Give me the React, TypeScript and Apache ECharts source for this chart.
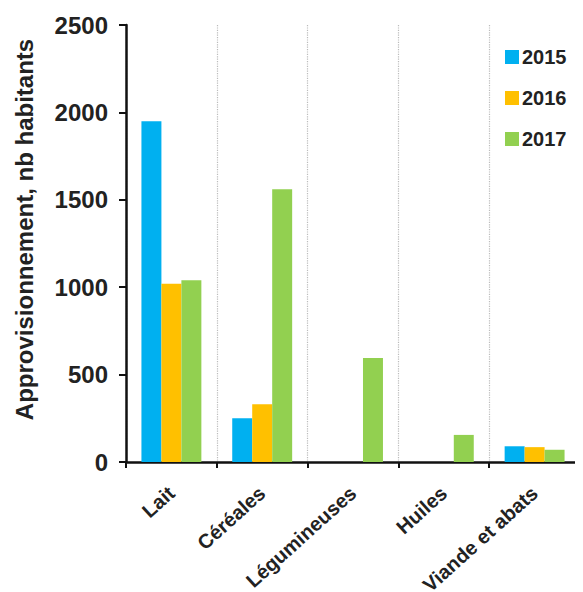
import React, { useEffect, useRef } from "react";
import * as echarts from "echarts";

const categories = ["Lait", "Céréales", "Légumineuses", "Huiles", "Viande et abats"];
const years = ["2015", "2016", "2017"];
const values2015 = [1950, 250, 0, 0, 90];
const values2016 = [1020, 330, 0, 0, 85];
const values2017 = [1040, 1560, 595, 155, 70];
const colors = ["#00B0F0", "#FFC000", "#92D050"];
const yTicks = [0, 500, 1000, 1500, 2000, 2500];

export default function App() {
  const ref = useRef<HTMLDivElement>(null);
  useEffect(() => {
    if (!ref.current) return;
    const chart = echarts.init(ref.current, null, { renderer: "svg" });
    const font = "Liberation Sans, Arial, sans-serif";
    const seriesData = [values2015, values2016, values2017];
    chart.setOption({
      animation: false,
      textStyle: { fontFamily: font },
      grid: { left: 118, top: 17, right: 3, bottom: 130, containLabel: false, outerBoundsMode: "none" },
      legend: {
        orient: "vertical",
        left: 492,
        top: 34,
        itemWidth: 14,
        itemHeight: 14,
        itemGap: 21,
        icon: "rect",
        data: years,
        textStyle: { fontSize: 20, fontWeight: "bold", color: "#222", fontFamily: font, padding: [0, 0, 0, -2] },
      },
      xAxis: {
        type: "category",
        data: categories,
        axisLine: { lineStyle: { color: "#111", width: 2.5 } },
        axisTick: { show: true, length: 6, lineStyle: { color: "#111", width: 2 } },
        axisLabel: {
          rotate: 42,
          fontSize: 20,
          fontWeight: "bold",
          color: "#222",
          margin: 28,
          fontFamily: font,
        },
        splitLine: { show: true, lineStyle: { color: "#bbb", type: "dotted", width: 1.2 } },
      },
      yAxis: {
        type: "value",
        min: 0,
        max: 2500,
        interval: 500,
        name: "Approvisionnement, nb habitants",
        nameLocation: "middle",
        nameGap: 90,
        nameTextStyle: {
          fontSize: 24,
          fontWeight: "bold",
          color: "#222",
          fontFamily: font,
          padding: [0, 0, 0, 28],
        },
        axisLine: { show: true, lineStyle: { color: "#111", width: 2.5 } },
        axisTick: { show: true, length: 7, lineStyle: { color: "#111", width: 2 } },
        axisLabel: {
          fontSize: 24,
          fontWeight: "bold",
          color: "#222",
          margin: 18,
          fontFamily: font,
          formatter: (v: number) => (yTicks.includes(v) ? String(v) : ""),
        },
        splitLine: { show: false },
      },
      series: years.map((y, i) => ({
        name: y,
        type: "bar",
        data: seriesData[i],
        barGap: "0%",
        barCategoryGap: "34%",
        itemStyle: { color: colors[i] },
      })),
    });
    return () => chart.dispose();
  }, []);
  return <div ref={ref} style={{ width: 575, height: 584 }} />;
}
